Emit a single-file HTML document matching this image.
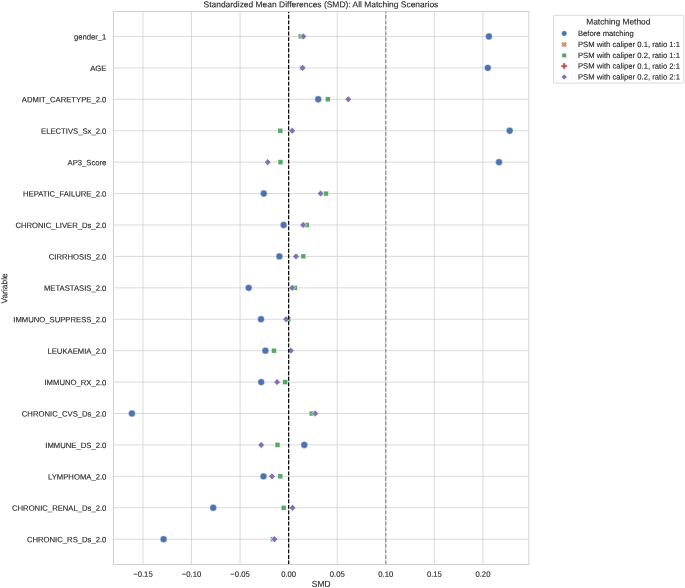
<!DOCTYPE html>
<html lang="en"><head><meta charset="utf-8"><title>Standardized Mean Differences (SMD): All Matching Scenarios</title>
<style>
html,body{margin:0;padding:0;background:#fff;}
body{width:685px;height:588px;overflow:hidden;}
svg{display:block;}
svg text{font-family:"Liberation Sans",Arial,sans-serif;fill:#262626;stroke:#262626;stroke-width:0.12px;}
.t{font-size:7.7px;}
.b{font-size:8.4px;}
</style></head><body>
<svg width="685" height="588" viewBox="0 0 685 588">
<rect x="0" y="0" width="685" height="588" fill="#ffffff"/>
<g stroke="#cccccc" stroke-width="0.72" fill="none">
<line x1="142.94" y1="11.45" x2="142.94" y2="564.45"/>
<line x1="191.51" y1="11.45" x2="191.51" y2="564.45"/>
<line x1="240.08" y1="11.45" x2="240.08" y2="564.45"/>
<line x1="288.65" y1="11.45" x2="288.65" y2="564.45"/>
<line x1="337.22" y1="11.45" x2="337.22" y2="564.45"/>
<line x1="385.79" y1="11.45" x2="385.79" y2="564.45"/>
<line x1="434.36" y1="11.45" x2="434.36" y2="564.45"/>
<line x1="482.93" y1="11.45" x2="482.93" y2="564.45"/>
<line x1="113.55" y1="36.45" x2="528.8" y2="36.45"/>
<line x1="113.55" y1="67.87" x2="528.8" y2="67.87"/>
<line x1="113.55" y1="99.29" x2="528.8" y2="99.29"/>
<line x1="113.55" y1="130.72" x2="528.8" y2="130.72"/>
<line x1="113.55" y1="162.14" x2="528.8" y2="162.14"/>
<line x1="113.55" y1="193.56" x2="528.8" y2="193.56"/>
<line x1="113.55" y1="224.98" x2="528.8" y2="224.98"/>
<line x1="113.55" y1="256.40" x2="528.8" y2="256.40"/>
<line x1="113.55" y1="287.83" x2="528.8" y2="287.83"/>
<line x1="113.55" y1="319.25" x2="528.8" y2="319.25"/>
<line x1="113.55" y1="350.67" x2="528.8" y2="350.67"/>
<line x1="113.55" y1="382.09" x2="528.8" y2="382.09"/>
<line x1="113.55" y1="413.51" x2="528.8" y2="413.51"/>
<line x1="113.55" y1="444.93" x2="528.8" y2="444.93"/>
<line x1="113.55" y1="476.36" x2="528.8" y2="476.36"/>
<line x1="113.55" y1="507.78" x2="528.8" y2="507.78"/>
<line x1="113.55" y1="539.20" x2="528.8" y2="539.20"/>
</g>
<g>
<circle cx="488.90" cy="36.45" r="3.45" fill="#4c72b0" stroke="#fff" stroke-width="0.45"/>
<circle cx="487.80" cy="67.87" r="3.45" fill="#4c72b0" stroke="#fff" stroke-width="0.45"/>
<circle cx="318.20" cy="99.29" r="3.45" fill="#4c72b0" stroke="#fff" stroke-width="0.45"/>
<circle cx="509.70" cy="130.72" r="3.45" fill="#4c72b0" stroke="#fff" stroke-width="0.45"/>
<circle cx="499.00" cy="162.14" r="3.45" fill="#4c72b0" stroke="#fff" stroke-width="0.45"/>
<circle cx="263.80" cy="193.56" r="3.45" fill="#4c72b0" stroke="#fff" stroke-width="0.45"/>
<circle cx="283.60" cy="224.98" r="3.45" fill="#4c72b0" stroke="#fff" stroke-width="0.45"/>
<circle cx="279.40" cy="256.40" r="3.45" fill="#4c72b0" stroke="#fff" stroke-width="0.45"/>
<circle cx="248.70" cy="287.83" r="3.45" fill="#4c72b0" stroke="#fff" stroke-width="0.45"/>
<circle cx="261.00" cy="319.25" r="3.45" fill="#4c72b0" stroke="#fff" stroke-width="0.45"/>
<circle cx="265.40" cy="350.67" r="3.45" fill="#4c72b0" stroke="#fff" stroke-width="0.45"/>
<circle cx="261.20" cy="382.09" r="3.45" fill="#4c72b0" stroke="#fff" stroke-width="0.45"/>
<circle cx="131.90" cy="413.51" r="3.45" fill="#4c72b0" stroke="#fff" stroke-width="0.45"/>
<circle cx="304.30" cy="444.93" r="3.45" fill="#4c72b0" stroke="#fff" stroke-width="0.45"/>
<circle cx="263.50" cy="476.36" r="3.45" fill="#4c72b0" stroke="#fff" stroke-width="0.45"/>
<circle cx="213.20" cy="507.78" r="3.45" fill="#4c72b0" stroke="#fff" stroke-width="0.45"/>
<circle cx="163.60" cy="539.20" r="3.45" fill="#4c72b0" stroke="#fff" stroke-width="0.45"/>
<rect x="298.18" y="34.03" width="4.85" height="4.85" fill="#55a868" stroke="#fff" stroke-width="0.35"/>
<rect x="299.57" y="65.45" width="4.85" height="4.85" fill="#55a868" stroke="#fff" stroke-width="0.35"/>
<rect x="325.38" y="96.87" width="4.85" height="4.85" fill="#55a868" stroke="#fff" stroke-width="0.35"/>
<rect x="277.88" y="128.29" width="4.85" height="4.85" fill="#55a868" stroke="#fff" stroke-width="0.35"/>
<rect x="278.07" y="159.71" width="4.85" height="4.85" fill="#55a868" stroke="#fff" stroke-width="0.35"/>
<rect x="323.57" y="191.13" width="4.85" height="4.85" fill="#55a868" stroke="#fff" stroke-width="0.35"/>
<rect x="304.38" y="222.56" width="4.85" height="4.85" fill="#55a868" stroke="#fff" stroke-width="0.35"/>
<rect x="300.97" y="253.98" width="4.85" height="4.85" fill="#55a868" stroke="#fff" stroke-width="0.35"/>
<rect x="292.38" y="285.40" width="4.85" height="4.85" fill="#55a868" stroke="#fff" stroke-width="0.35"/>
<rect x="285.97" y="316.82" width="4.85" height="4.85" fill="#55a868" stroke="#fff" stroke-width="0.35"/>
<rect x="271.57" y="348.24" width="4.85" height="4.85" fill="#55a868" stroke="#fff" stroke-width="0.35"/>
<rect x="282.77" y="379.67" width="4.85" height="4.85" fill="#55a868" stroke="#fff" stroke-width="0.35"/>
<rect x="309.18" y="411.09" width="4.85" height="4.85" fill="#55a868" stroke="#fff" stroke-width="0.35"/>
<rect x="275.07" y="442.51" width="4.85" height="4.85" fill="#55a868" stroke="#fff" stroke-width="0.35"/>
<rect x="277.88" y="473.93" width="4.85" height="4.85" fill="#55a868" stroke="#fff" stroke-width="0.35"/>
<rect x="281.18" y="505.35" width="4.85" height="4.85" fill="#55a868" stroke="#fff" stroke-width="0.35"/>
<rect x="270.47" y="536.78" width="4.85" height="4.85" fill="#55a868" stroke="#fff" stroke-width="0.35"/>
<path d="M303.40 33.00L306.85 36.45L303.40 39.90L299.95 36.45Z" fill="#8172b3" stroke="#fff" stroke-width="0.7"/>
<path d="M302.60 64.42L306.05 67.87L302.60 71.32L299.15 67.87Z" fill="#8172b3" stroke="#fff" stroke-width="0.7"/>
<path d="M348.30 95.84L351.75 99.29L348.30 102.74L344.85 99.29Z" fill="#8172b3" stroke="#fff" stroke-width="0.7"/>
<path d="M292.20 127.27L295.65 130.72L292.20 134.17L288.75 130.72Z" fill="#8172b3" stroke="#fff" stroke-width="0.7"/>
<path d="M267.70 158.69L271.15 162.14L267.70 165.59L264.25 162.14Z" fill="#8172b3" stroke="#fff" stroke-width="0.7"/>
<path d="M320.60 190.11L324.05 193.56L320.60 197.01L317.15 193.56Z" fill="#8172b3" stroke="#fff" stroke-width="0.7"/>
<path d="M303.10 221.53L306.55 224.98L303.10 228.43L299.65 224.98Z" fill="#8172b3" stroke="#fff" stroke-width="0.7"/>
<path d="M296.00 252.95L299.45 256.40L296.00 259.85L292.55 256.40Z" fill="#8172b3" stroke="#fff" stroke-width="0.7"/>
<path d="M292.20 284.38L295.65 287.83L292.20 291.28L288.75 287.83Z" fill="#8172b3" stroke="#fff" stroke-width="0.7"/>
<path d="M286.10 315.80L289.55 319.25L286.10 322.70L282.65 319.25Z" fill="#8172b3" stroke="#fff" stroke-width="0.7"/>
<path d="M290.80 347.22L294.25 350.67L290.80 354.12L287.35 350.67Z" fill="#8172b3" stroke="#fff" stroke-width="0.7"/>
<path d="M277.10 378.64L280.55 382.09L277.10 385.54L273.65 382.09Z" fill="#8172b3" stroke="#fff" stroke-width="0.7"/>
<path d="M315.30 410.06L318.75 413.51L315.30 416.96L311.85 413.51Z" fill="#8172b3" stroke="#fff" stroke-width="0.7"/>
<path d="M261.20 441.48L264.65 444.93L261.20 448.38L257.75 444.93Z" fill="#8172b3" stroke="#fff" stroke-width="0.7"/>
<path d="M272.00 472.91L275.45 476.36L272.00 479.81L268.55 476.36Z" fill="#8172b3" stroke="#fff" stroke-width="0.7"/>
<path d="M292.50 504.33L295.95 507.78L292.50 511.23L289.05 507.78Z" fill="#8172b3" stroke="#fff" stroke-width="0.7"/>
<path d="M274.50 535.75L277.95 539.20L274.50 542.65L271.05 539.20Z" fill="#8172b3" stroke="#fff" stroke-width="0.7"/>
</g>
<line x1="385.79" y1="564.45" x2="385.79" y2="11.45" stroke="#808080" stroke-width="1.05" stroke-dasharray="3.887 1.681"/>
<line x1="288.65" y1="564.45" x2="288.65" y2="11.45" stroke="#0a0a0a" stroke-width="1.25" stroke-dasharray="3.887 1.681"/>
<rect x="113.55" y="11.45" width="415.25" height="553.00" fill="none" stroke="#cccccc" stroke-width="0.9"/>
<text class="b" style="font-size:8.45px" transform="translate(320.92 7.3) rotate(0.03)" text-anchor="middle">Standardized Mean Differences (SMD): All Matching Scenarios</text>
<text class="t" transform="translate(106.40 39.50) rotate(0.03)" text-anchor="end">gender_1</text>
<text class="t" transform="translate(106.40 70.92) rotate(0.03)" text-anchor="end">AGE</text>
<text class="t" transform="translate(106.40 102.34) rotate(0.03)" text-anchor="end">ADMIT_CARETYPE_2.0</text>
<text class="t" transform="translate(106.40 133.77) rotate(0.03)" text-anchor="end">ELECTIVS_Sx_2.0</text>
<text class="t" transform="translate(106.40 165.19) rotate(0.03)" text-anchor="end">AP3_Score</text>
<text class="t" transform="translate(106.40 196.61) rotate(0.03)" text-anchor="end">HEPATIC_FAILURE_2.0</text>
<text class="t" transform="translate(106.40 228.03) rotate(0.03)" text-anchor="end">CHRONIC_LIVER_Ds_2.0</text>
<text class="t" transform="translate(106.40 259.45) rotate(0.03)" text-anchor="end">CIRRHOSIS_2.0</text>
<text class="t" transform="translate(106.40 290.88) rotate(0.03)" text-anchor="end">METASTASIS_2.0</text>
<text class="t" transform="translate(106.40 322.30) rotate(0.03)" text-anchor="end">IMMUNO_SUPPRESS_2.0</text>
<text class="t" transform="translate(106.40 353.72) rotate(0.03)" text-anchor="end">LEUKAEMIA_2.0</text>
<text class="t" transform="translate(106.40 385.14) rotate(0.03)" text-anchor="end">IMMUNO_RX_2.0</text>
<text class="t" transform="translate(106.40 416.56) rotate(0.03)" text-anchor="end">CHRONIC_CVS_Ds_2.0</text>
<text class="t" transform="translate(106.40 447.98) rotate(0.03)" text-anchor="end">IMMUNE_DS_2.0</text>
<text class="t" transform="translate(106.40 479.41) rotate(0.03)" text-anchor="end">LYMPHOMA_2.0</text>
<text class="t" transform="translate(106.40 510.83) rotate(0.03)" text-anchor="end">CHRONIC_RENAL_Ds_2.0</text>
<text class="t" transform="translate(106.40 542.25) rotate(0.03)" text-anchor="end">CHRONIC_RS_Ds_2.0</text>
<text class="t" transform="translate(142.94 576.80) rotate(0.03)" text-anchor="middle">−0.15</text>
<text class="t" transform="translate(191.51 576.80) rotate(0.03)" text-anchor="middle">−0.10</text>
<text class="t" transform="translate(240.08 576.80) rotate(0.03)" text-anchor="middle">−0.05</text>
<text class="t" transform="translate(288.65 576.80) rotate(0.03)" text-anchor="middle">0.00</text>
<text class="t" transform="translate(337.22 576.80) rotate(0.03)" text-anchor="middle">0.05</text>
<text class="t" transform="translate(385.79 576.80) rotate(0.03)" text-anchor="middle">0.10</text>
<text class="t" transform="translate(434.36 576.80) rotate(0.03)" text-anchor="middle">0.15</text>
<text class="t" transform="translate(482.93 576.80) rotate(0.03)" text-anchor="middle">0.20</text>
<text class="b" transform="translate(321.17 586.80) rotate(0.03)" text-anchor="middle">SMD</text>
<text class="b" transform="translate(7.15 288.40) rotate(-90.03)" text-anchor="middle">Variable</text>
<rect x="553.5" y="15.3" width="130.3" height="67.8" rx="1.3" ry="1.3" fill="#fff" fill-opacity="0.8" stroke="#cccccc" stroke-width="0.7"/>
<text class="b" transform="translate(618.30 24.50) rotate(0.03)" text-anchor="middle">Matching Method</text>
<text class="t" transform="translate(577.90 35.90) rotate(0.03)" text-anchor="start">Before matching</text>
<text class="t" transform="translate(577.90 47.00) rotate(0.03)" text-anchor="start">PSM with caliper 0.1, ratio 1:1</text>
<text class="t" transform="translate(577.90 57.90) rotate(0.03)" text-anchor="start">PSM with caliper 0.2, ratio 1:1</text>
<text class="t" transform="translate(577.90 68.60) rotate(0.03)" text-anchor="start">PSM with caliper 0.1, ratio 2:1</text>
<text class="t" transform="translate(577.90 79.50) rotate(0.03)" text-anchor="start">PSM with caliper 0.2, ratio 2:1</text>
<circle cx="564.2" cy="33.4" r="2.6" fill="#4c72b0" stroke="#fff" stroke-width="0.3"/>
<path d="M562.90 41.90L564.20 43.20L565.50 41.90L566.80 43.20L565.50 44.50L566.80 45.80L565.50 47.10L564.20 45.80L562.90 47.10L561.60 45.80L562.90 44.50L561.60 43.20Z" fill="#dd8452" stroke="#dd8452" stroke-width="0.25" stroke-linejoin="round"/>
<rect x="562.00" y="53.20" width="4.4" height="4.4" fill="#55a868" stroke="#fff" stroke-width="0.35"/>
<path d="M563.28 63.35L565.12 63.35L565.12 65.18L566.95 65.18L566.95 67.02L565.12 67.02L565.12 68.85L563.28 68.85L563.28 67.02L561.45 67.02L561.45 65.18L563.28 65.18Z" fill="#c44e52" stroke="#c44e52" stroke-width="0.25" stroke-linejoin="round"/>
<path d="M564.20 74.20L567.00 77.00L564.20 79.80L561.40 77.00Z" fill="#8172b3" stroke="#fff" stroke-width="0.2"/>
</svg></body></html>
